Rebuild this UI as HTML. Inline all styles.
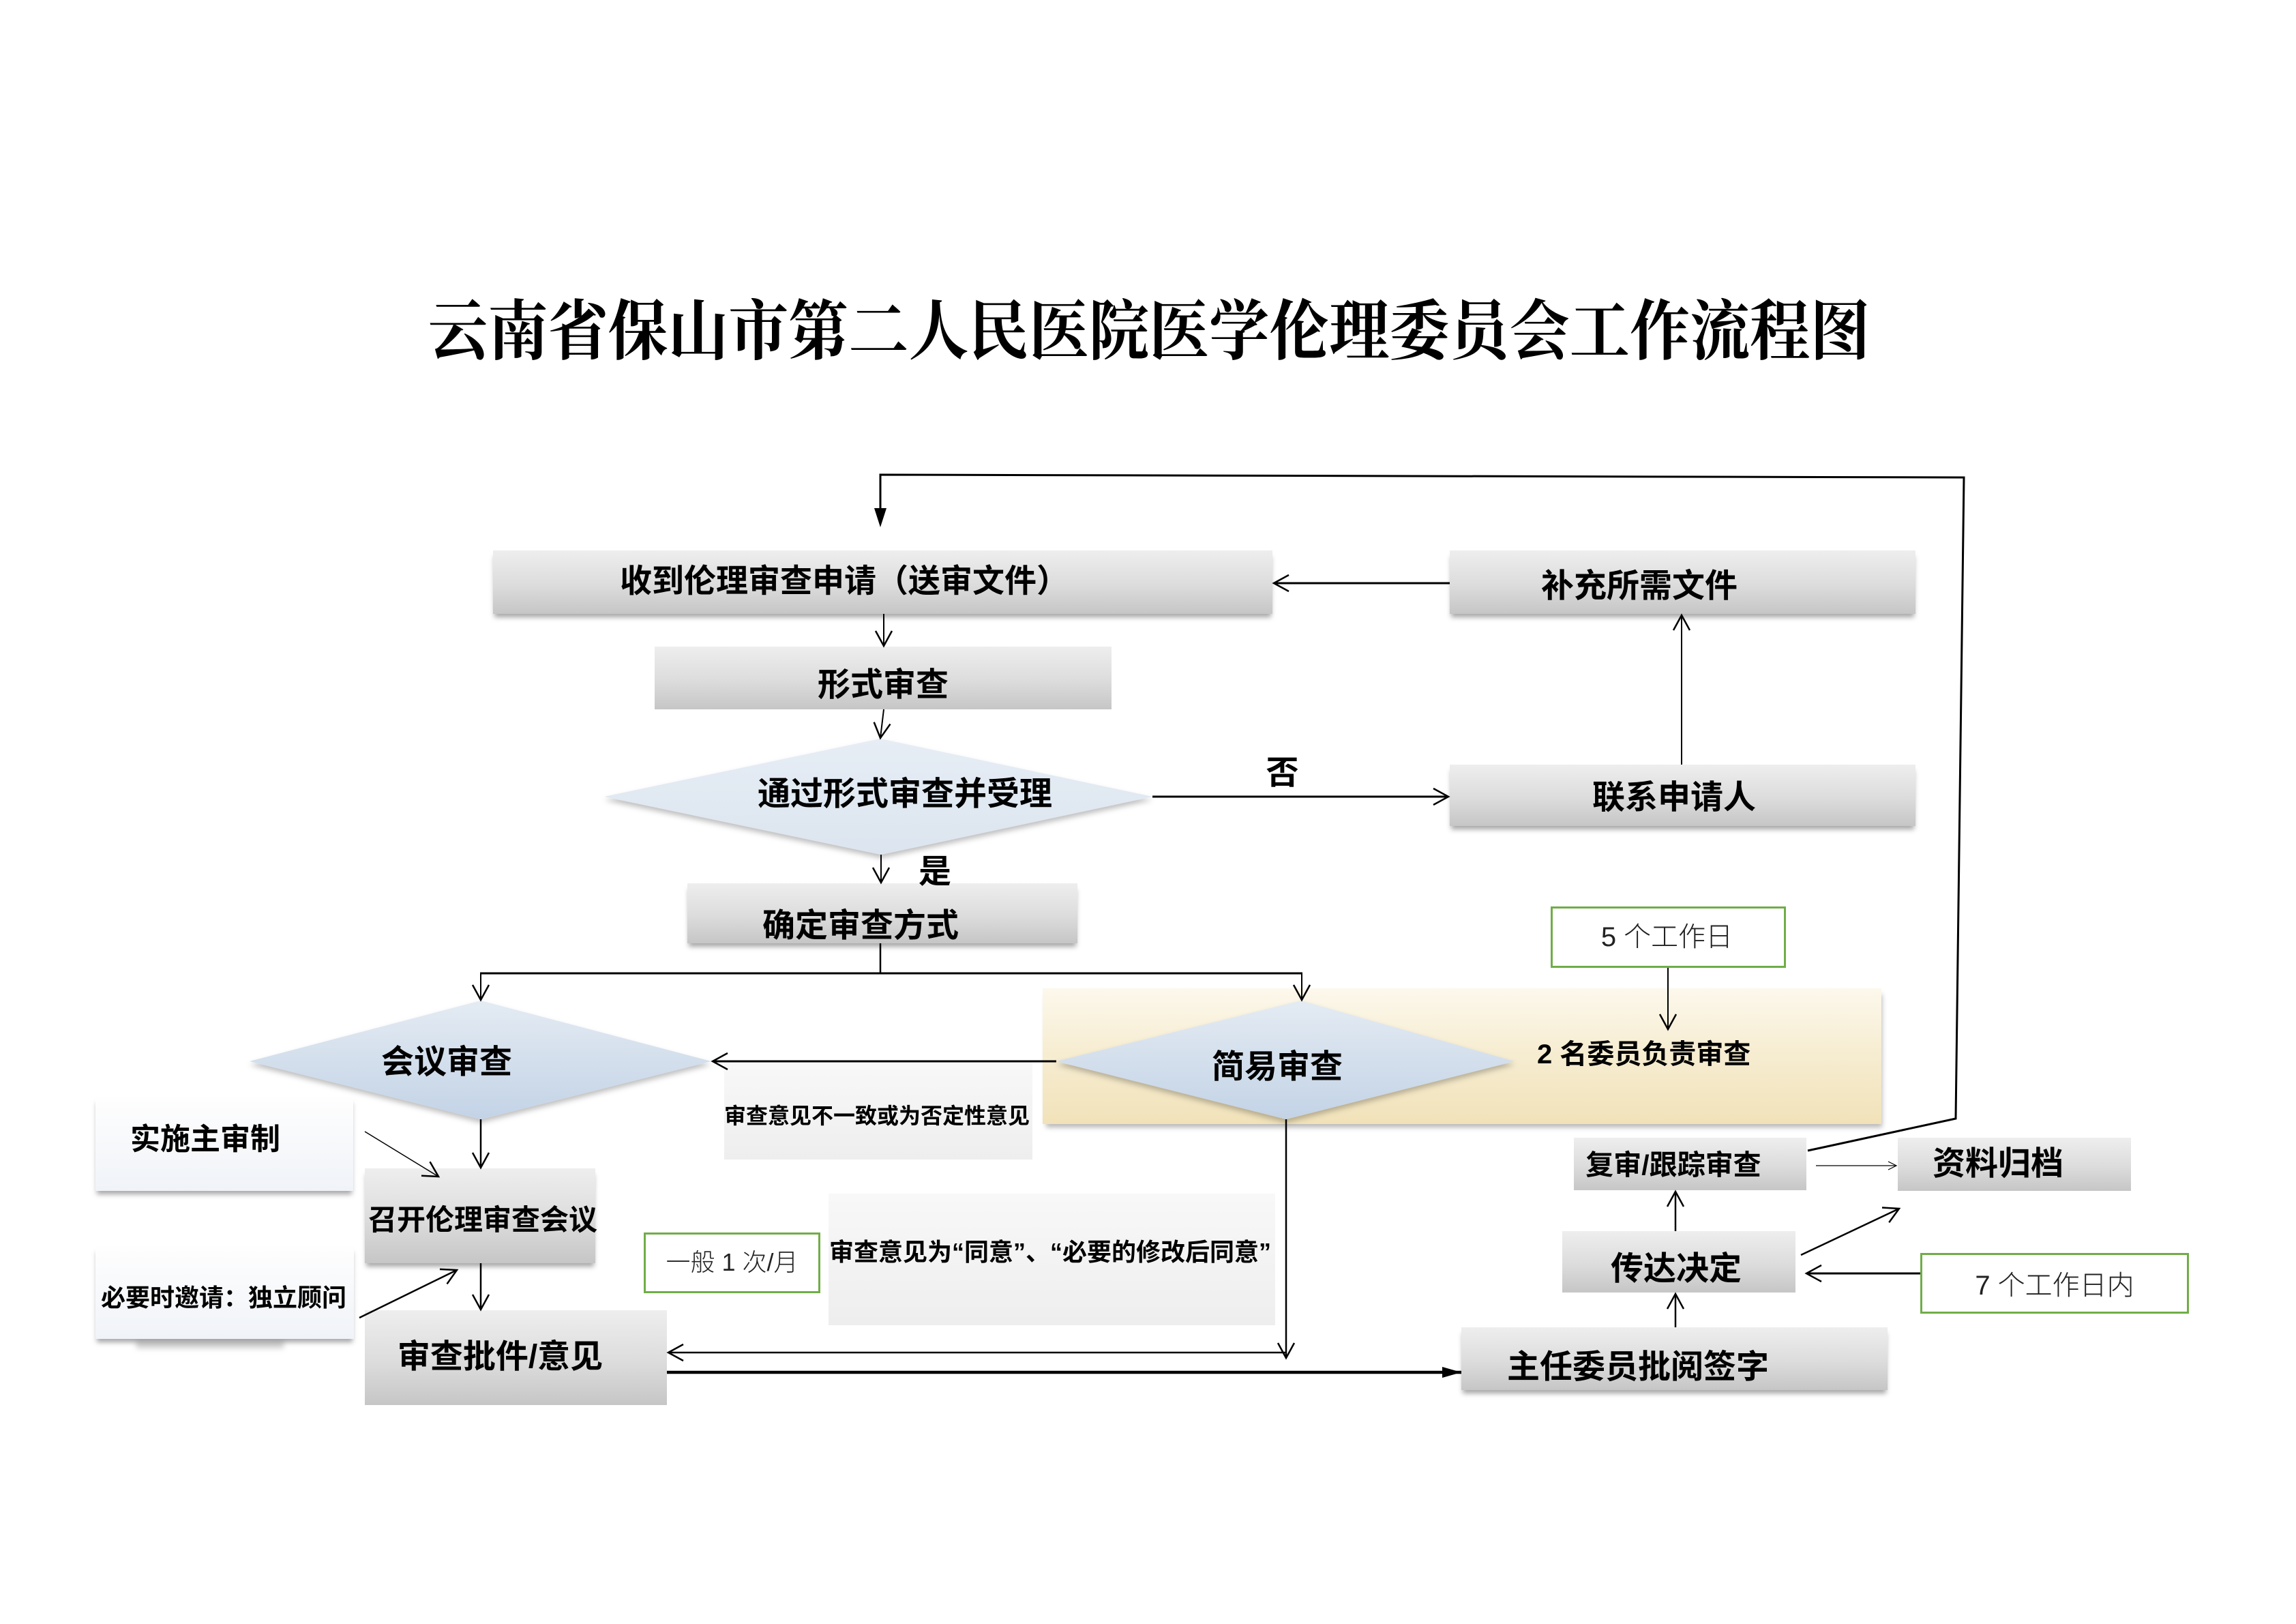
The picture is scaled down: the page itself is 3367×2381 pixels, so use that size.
<!DOCTYPE html>
<html><head><meta charset="utf-8">
<style>
html,body{margin:0;padding:0;background:#fff;}
#p{position:relative;width:3367px;height:2381px;overflow:hidden;background:#fff;font-family:"Liberation Sans","Noto Sans CJK SC",sans-serif;}
.b{position:absolute;box-sizing:border-box;z-index:1;}
.g{background:linear-gradient(#eeeeee,#dcdcdc 55%,#c6c6c6);}
.sh{box-shadow:0 7px 7px -2px rgba(0,0,0,.35);}
.w{background:linear-gradient(#fefefe,#f0f3f8);}
.l{background:linear-gradient(#f8f8f8,#eeeeee);}
.gr{background:#fff;border:3px solid #70ad47;}
.y{background:linear-gradient(#fcf8ec,#f6ecd0 50%,#f1e2b9);box-shadow:3px 7px 7px -2px rgba(0,0,0,.28);}
.t{position:absolute;white-space:nowrap;text-align:center;font-weight:700;color:#000;z-index:3;font-family:"Liberation Sans","Noto Sans CJK SC",sans-serif;}
.lt{font-weight:300;color:#222;}
svg{position:absolute;left:0;top:0;z-index:2;}
</style></head><body><div id="p">

<!-- title -->
<div class="t" style="left:530px;top:437px;width:2310px;height:100px;line-height:100px;font-size:96px;font-family:'Liberation Serif','Noto Serif CJK SC',serif;font-weight:700;transform:scaleX(0.918);transform-origin:center;">云南省保山市第二人民医院医学伦理委员会工作流程图</div>

<!-- boxes -->
<div class="b g sh" style="left:723px;top:807px;width:1143px;height:93px;"></div>
<div class="b g sh" style="left:2126px;top:807px;width:683px;height:93px;"></div>
<div class="b g" style="left:960px;top:948px;width:670px;height:92px;"></div>
<div class="b g sh" style="left:2126px;top:1121px;width:683px;height:90px;"></div>
<div class="b g sh" style="left:1008px;top:1295px;width:572px;height:88px;"></div>
<div class="b gr" style="left:2274px;top:1329px;width:345px;height:90px;"></div>
<div class="b y" style="left:1529px;top:1449px;width:1230px;height:199px;"></div>
<div class="b l" style="left:1062px;top:1558px;width:452px;height:142px;"></div>
<div class="b w sh" style="left:140px;top:1608px;width:378px;height:138px;"></div>
<div class="b g sh" style="left:535px;top:1713px;width:338px;height:139px;"></div>
<div class="b l" style="left:1215px;top:1750px;width:655px;height:193px;"></div>
<div class="b gr" style="left:944px;top:1807px;width:259px;height:89px;"></div>
<div class="b w sh" style="left:140px;top:1827px;width:379px;height:136px;"></div>
<div style="position:absolute;left:200px;top:1966px;width:216px;height:11px;background:rgba(90,90,90,.28);filter:blur(4px);z-index:0;"></div>
<div class="b g" style="left:535px;top:1921px;width:443px;height:139px;"></div>
<div class="b g" style="left:2308px;top:1668px;width:341px;height:77px;"></div>
<div class="b g" style="left:2783px;top:1668px;width:342px;height:78px;"></div>
<div class="b g" style="left:2291px;top:1805px;width:342px;height:90px;"></div>
<div class="b gr" style="left:2816px;top:1837px;width:394px;height:89px;"></div>
<div class="b g sh" style="left:2143px;top:1946px;width:625px;height:92px;"></div>

<svg width="3367" height="2381" viewBox="0 0 3367 2381">
<defs>
<marker id="a" markerUnits="userSpaceOnUse" markerWidth="40" markerHeight="40" viewBox="-30 -20 40 40" refX="0" refY="0" orient="auto" overflow="visible">
<path d="M-22,-12 L0,0 L-22,12" fill="none" stroke="#000" stroke-width="2.5"/>
</marker>
<marker id="f" markerUnits="userSpaceOnUse" markerWidth="40" markerHeight="40" viewBox="-30 -20 40 40" refX="0" refY="0" orient="auto" overflow="visible">
<path d="M-28,-8 L0,0 L-28,8 Z" fill="#000"/>
</marker>
<marker id="s" markerUnits="userSpaceOnUse" markerWidth="20" markerHeight="20" viewBox="-15 -10 20 20" refX="0" refY="0" orient="auto" overflow="visible">
<path d="M-12,-6 L0,0 L-12,6" fill="none" stroke="#000" stroke-width="1.2"/>
</marker>
<linearGradient id="d1" x1="0" y1="0" x2="0" y2="1"><stop offset="0" stop-color="#e6edf5"/><stop offset="1" stop-color="#dce5ef"/></linearGradient>
<linearGradient id="d2" x1="0" y1="0" x2="0" y2="1"><stop offset="0" stop-color="#e4ebf3"/><stop offset="1" stop-color="#c3d3e6"/></linearGradient>
<filter id="ds" x="-10%" y="-10%" width="120%" height="130%"><feDropShadow dx="0" dy="5" stdDeviation="4" flood-color="#000" flood-opacity=".25"/></filter>
</defs>

<!-- diamonds -->
<polygon points="1291,1083 1690,1168 1292,1253 886,1168" fill="url(#d1)" filter="url(#ds)"/>
<polygon points="705,1467 1043,1556 705,1641 366,1556" fill="url(#d2)" filter="url(#ds)"/>
<polygon points="1908,1467 2221,1556 1886,1641 1549,1556" fill="url(#d2)" filter="url(#ds)"/>

<g stroke="#000" fill="none">
<!-- top loop -->
<polyline points="2651,1687 2868,1640 2880,700 1291,696 1291,750" stroke-width="3"/>
<polygon points="1282,745 1300,745 1291,773" fill="#000" stroke="none"/>
<line x1="1296" y1="900" x2="1296" y2="947" stroke-width="2" marker-end="url(#a)"/>
<line x1="1296" y1="1040" x2="1291" y2="1082" stroke-width="2" marker-end="url(#a)"/>
<line x1="1292" y1="1253" x2="1292" y2="1294" stroke-width="2" marker-end="url(#a)"/>
<line x1="1690" y1="1168" x2="2124" y2="1168" stroke-width="3" marker-end="url(#a)"/>
<line x1="2466" y1="1121" x2="2466" y2="902" stroke-width="2" marker-end="url(#a)"/>
<line x1="2126" y1="855" x2="1868" y2="855" stroke-width="3" marker-end="url(#a)"/>
<!-- split -->
<line x1="1291" y1="1383" x2="1291" y2="1427" stroke-width="2.5"/>
<line x1="704" y1="1427" x2="1910" y2="1427" stroke-width="3"/>
<line x1="705" y1="1427" x2="705" y2="1466" stroke-width="2" marker-end="url(#a)"/>
<line x1="1909" y1="1427" x2="1909" y2="1466" stroke-width="2" marker-end="url(#a)"/>
<line x1="2446" y1="1419" x2="2446" y2="1509" stroke-width="2" marker-end="url(#a)"/>
<line x1="1549" y1="1556" x2="1045" y2="1556" stroke-width="3" marker-end="url(#a)"/>
<line x1="705" y1="1641" x2="705" y2="1712" stroke-width="2.5" marker-end="url(#a)"/>
<line x1="535" y1="1659" x2="643" y2="1725" stroke-width="1.5" marker-end="url(#a)"/>
<line x1="527" y1="1932" x2="670" y2="1862" stroke-width="2.5" marker-end="url(#a)"/>
<line x1="705" y1="1852" x2="705" y2="1920" stroke-width="2.5" marker-end="url(#a)"/>
<line x1="1886" y1="1641" x2="1886" y2="1991" stroke-width="2.5" marker-end="url(#a)"/>
<line x1="1886" y1="1983" x2="980" y2="1983" stroke-width="2.5" marker-end="url(#a)"/>
<line x1="978" y1="2012" x2="2143" y2="2012" stroke-width="4.5" marker-end="url(#f)"/>
<line x1="2457" y1="1946" x2="2457" y2="1897" stroke-width="2.5" marker-end="url(#a)"/>
<line x1="2457" y1="1805" x2="2457" y2="1747" stroke-width="2.5" marker-end="url(#a)"/>
<line x1="2663" y1="1709" x2="2781" y2="1709" stroke-width="1.2" marker-end="url(#s)"/>
<line x1="2641" y1="1840" x2="2785" y2="1772" stroke-width="2.5" marker-end="url(#a)"/>
<line x1="2816" y1="1867" x2="2649" y2="1867" stroke-width="3" marker-end="url(#a)"/>
</g>
</svg>

<!-- texts -->
<div class="t" style="left:909px;top:826px;width:656px;height:51px;line-height:51px;font-size:47px;">收到伦理审查申请（送审文件）</div>
<div class="t" style="left:2256px;top:834px;width:296px;height:52px;line-height:52px;font-size:48px;">补充所需文件</div>
<div class="t" style="left:1198px;top:979px;width:194px;height:52px;line-height:52px;font-size:48px;">形式审查</div>
<div class="t" style="left:1111px;top:1139px;width:384px;height:52px;line-height:52px;font-size:48px;">通过形式审查并受理</div>
<div class="t" style="left:1856px;top:1108px;width:49px;height:52px;line-height:52px;font-size:48px;">否</div>
<div class="t" style="left:2335px;top:1144px;width:238px;height:52px;line-height:52px;font-size:48px;">联系申请人</div>
<div class="t" style="left:1347px;top:1253px;width:48px;height:52px;line-height:52px;font-size:48px;">是</div>
<div class="t" style="left:1118px;top:1332px;width:286px;height:52px;line-height:52px;font-size:48px;">确定审查方式</div>
<div class="t lt" style="left:2272px;top:1352px;width:345px;height:44px;line-height:44px;font-size:40px;">5 个工作日</div>
<div class="t" style="left:559px;top:1532px;width:192px;height:52px;line-height:52px;font-size:48px;">会议审查</div>
<div class="t" style="left:1777px;top:1539px;width:192px;height:52px;line-height:52px;font-size:48px;">简易审查</div>
<div class="t" style="left:2254px;top:1524px;width:313px;height:44px;line-height:44px;font-size:40px;">2 名委员负责审查</div>
<div class="t" style="left:1062px;top:1618px;width:445px;height:36px;line-height:36px;font-size:32px;">审查意见不一致或为否定性意见</div>
<div class="t" style="left:191px;top:1647px;width:217px;height:48px;line-height:48px;font-size:44px;">实施主审制</div>
<div class="t" style="left:540px;top:1766px;width:336px;height:46px;line-height:46px;font-size:42px;">召开伦理审查会议</div>
<div class="t lt" style="left:944px;top:1831px;width:259px;height:40px;line-height:40px;font-size:36px;">一般 1 次/月</div>
<div class="t" style="left:1216px;top:1816px;width:648px;height:40px;line-height:40px;font-size:36px;">审查意见为“同意”、“必要的修改后同意”</div>
<div class="t" style="left:148px;top:1883px;width:356px;height:40px;line-height:40px;font-size:36px;">必要时邀请：独立顾问</div>
<div class="t" style="left:578px;top:1964px;width:311px;height:52px;line-height:52px;font-size:48px;">审查批件/意见</div>
<div class="t" style="left:2317px;top:1685px;width:274px;height:46px;line-height:46px;font-size:41px;">复审/跟踪审查</div>
<div class="t" style="left:2834px;top:1681px;width:190px;height:52px;line-height:52px;font-size:48px;">资料归档</div>
<div class="t" style="left:2362px;top:1835px;width:192px;height:52px;line-height:52px;font-size:48px;">传达决定</div>
<div class="t lt" style="left:2816px;top:1863px;width:394px;height:44px;line-height:44px;font-size:40px;">7 个工作日内</div>
<div class="t" style="left:2210px;top:1979px;width:384px;height:52px;line-height:52px;font-size:48px;">主任委员批阅签字</div>

</div></body></html>
